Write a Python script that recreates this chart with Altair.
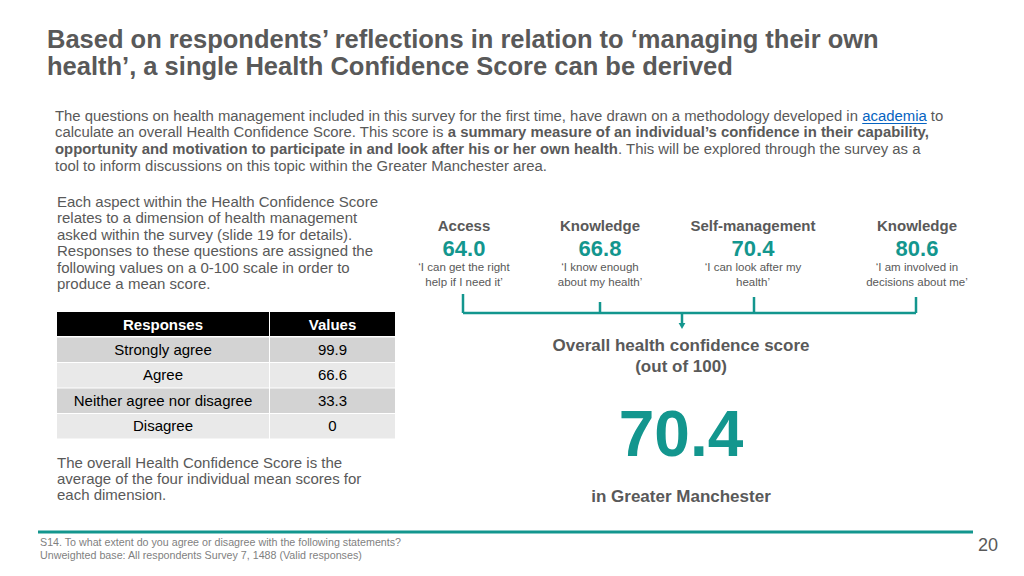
import altair as alt
import pandas as pd

# ---------------- data ----------------
title_lines = [
    "Based on respondents’ reflections in relation to ‘managing their own",
    "health’, a single Health Confidence Score can be derived",
]
# intro paragraph: each line is a list of (text, style) runs
intro_lines = [
    [("The questions on health management included in this survey for the first time, have drawn on a methodology developed in ", "normal"),
     ("academia", "link"), (" to", "normal")],
    [("calculate an overall Health Confidence Score. This score is ", "normal"),
     ("a summary measure of an individual’s confidence in their capability,", "bold")],
    [("opportunity and motivation to participate in and look after his or her own health", "bold"),
     (". This will be explored through the survey as a", "normal")],
    [("tool to inform discussions on this topic within the Greater Manchester area.", "normal")],
]

method_lines = [
    "Each aspect within the Health Confidence Score",
    "relates to a dimension of health management",
    "asked within the survey (slide 19 for details).",
    "Responses to these questions are assigned the",
    "following values on a 0-100 scale in order to",
    "produce a mean score.",
]
table_headers = ["Responses", "Values"]
responses = ["Strongly agree", "Agree", "Neither agree nor disagree", "Disagree"]
response_values = ["99.9", "66.6", "33.3", "0"]
average_lines = [
    "The overall Health Confidence Score is the",
    "average of the four individual mean scores for",
    "each dimension.",
]

dimensions = ["Access", "Knowledge", "Self-management", "Knowledge"]
dimension_scores = [64.0, 66.8, 70.4, 80.6]
dimension_quotes = [
    ["‘I can get the right", "help if I need it’"],
    ["‘I know enough", "about my health’"],
    ["‘I can look after my", "health’"],
    ["‘I am involved in", "decisions about me’"],
]
overall_label = ["Overall health confidence score", "(out of 100)"]
overall_score = 70.4
overall_area = "in Greater Manchester"

footer_lines = [
    "S14. To what extent do you agree or disagree with the following statements?",
    "Unweighted base: All respondents Survey 7, 1488 (Valid responses)",
]
page_number = "20"

# ---------------- styling / layout ----------------
TEAL = "#13968e"
GREY = "#595959"
LIGHTGREY = "#7f7f7f"
LINK = "#0563c1"
SANS = "Liberation Sans, Arial, sans-serif"

XS = alt.Scale(domain=[8, 1016], nice=False, zero=False)
YS = alt.Scale(domain=[8, 568], nice=False, zero=False, reverse=True)

# Arial / Liberation Sans advance widths (per 1000 em) used to chain text runs
_REG = dict(zip(" !'(),-.:;?", [278, 278, 191, 333, 333, 278, 333, 278, 278, 278, 556]))
_REG.update({c: 556 for c in "0123456789"})
_REG.update(dict(zip("ABCDEFGHIJKLMNOPQRSTUVWXYZ",
                     [667, 667, 722, 722, 667, 611, 778, 722, 278, 500, 667, 556, 833, 722, 778, 667, 778, 722, 667, 611, 722, 667, 944, 667, 667, 611])))
_REG.update(dict(zip("abcdefghijklmnopqrstuvwxyz",
                     [556, 556, 500, 556, 556, 278, 556, 556, 222, 222, 500, 222, 833, 556, 556, 556, 556, 333, 500, 278, 556, 500, 722, 500, 500, 500])))
_REG.update({"’": 222, "‘": 222})
_BOLD = dict(zip(" !'(),-.:;?", [278, 333, 238, 333, 333, 278, 333, 278, 333, 333, 611]))
_BOLD.update({c: 556 for c in "0123456789"})
_BOLD.update(dict(zip("ABCDEFGHIJKLMNOPQRSTUVWXYZ",
                      [722, 722, 722, 722, 667, 611, 778, 722, 278, 556, 722, 611, 833, 722, 778, 667, 778, 722, 667, 611, 722, 667, 944, 667, 667, 611])))
_BOLD.update(dict(zip("abcdefghijklmnopqrstuvwxyz",
                      [556, 611, 556, 611, 556, 333, 611, 611, 278, 278, 556, 278, 889, 611, 611, 611, 611, 389, 556, 333, 611, 556, 778, 556, 556, 500])))
_BOLD.update({"’": 278, "‘": 278})


def text_width(s, size, bold=False):
    table = _BOLD if bold else _REG
    return sum(table.get(ch, 556) for ch in s) * size / 1000.0


def text_layer(rows, **kw):
    df = pd.DataFrame(rows, columns=["x", "y", "t"])
    base = dict(baseline="middle", align="left", font=SANS, fontSize=14, color=GREY)
    base.update(kw)
    return alt.Chart(df).mark_text(**base).encode(
        x=alt.X("x:Q", scale=XS, axis=None),
        y=alt.Y("y:Q", scale=YS, axis=None),
        text="t:N",
    )


def rule_layer(rows, color=TEAL, width=2):
    df = pd.DataFrame(rows, columns=["x", "x2", "y", "y2"])
    return alt.Chart(df).mark_rule(color=color, strokeWidth=width).encode(
        x=alt.X("x:Q", scale=XS, axis=None), x2="x2:Q",
        y=alt.Y("y:Q", scale=YS, axis=None), y2="y2:Q",
    )


layers = []

# title
layers.append(text_layer([(47, 40 + 27 * i, t) for i, t in enumerate(title_lines)],
                         fontSize=25.5, fontWeight="bold", color=GREY))

# intro paragraph (runs chained with computed widths)
first_line_units = sum(text_width(t, 1, s == "bold") for t, s in intro_lines[0])
P_SIZE = round(888 / first_line_units, 2)
runs = {"normal": [], "bold": [], "link": []}
underline = []
for i, line in enumerate(intro_lines):
    x = 55.0
    y = 116.5 + 16.8 * i
    for t, style in line:
        bold = style == "bold"
        lead = len(t) - len(t.lstrip())
        x_draw = x + text_width(t[:lead], P_SIZE, bold)
        core = t.strip()
        runs[style].append((x_draw, y, core))
        if style == "link":
            underline.append((x_draw, x_draw + text_width(core, P_SIZE), y + 7, y + 7))
        x += text_width(t, P_SIZE, bold)
layers.append(text_layer(runs["normal"], fontSize=P_SIZE, color=GREY))
layers.append(text_layer(runs["bold"], fontSize=P_SIZE, color=GREY, fontWeight="bold"))
layers.append(text_layer(runs["link"], fontSize=P_SIZE, color=LINK))
layers.append(rule_layer(underline, color=LINK, width=1))

# method text
layers.append(text_layer([(57, 202 + 16.4 * i, t) for i, t in enumerate(method_lines)], fontSize=15))
layers.append(text_layer([(57, 463 + 16 * i, t) for i, t in enumerate(average_lines)], fontSize=15))

# table
row_top = [312, 337.5, 363, 388.5, 414]
row_bot = [336, 362, 387.5, 413, 438.5]
col_l = [57, 270]
col_r = [269, 395]
row_fill = ["#000000", "#d3d3d3", "#e9e9e9", "#d3d3d3", "#e9e9e9"]
cells = []
for r in range(5):
    for c in range(2):
        cells.append(dict(x=col_l[c], x2=col_r[c], y=row_top[r], y2=row_bot[r], c=row_fill[r]))
layers.append(alt.Chart(pd.DataFrame(cells)).mark_rect().encode(
    x=alt.X("x:Q", scale=XS, axis=None), x2="x2:Q",
    y=alt.Y("y:Q", scale=YS, axis=None), y2="y2:Q",
    color=alt.Color("c:N", scale=None),
))
col_c = [(a + b) / 2 for a, b in zip(col_l, col_r)]
layers.append(text_layer([(col_c[i], 325, h) for i, h in enumerate(table_headers)],
                         align="center", color="#ffffff", fontWeight="bold", fontSize=15))
rows_txt = []
for i, (resp, val) in enumerate(zip(responses, response_values)):
    yc = (row_top[i + 1] + row_bot[i + 1]) / 2
    rows_txt.append((col_c[0], yc, resp))
    rows_txt.append((col_c[1], yc, val))
layers.append(text_layer(rows_txt, align="center", color="#000000", fontSize=15))

# dimension columns
dim_x = [464, 600, 753, 917]
layers.append(text_layer([(dim_x[i], 226, d) for i, d in enumerate(dimensions)],
                         align="center", fontWeight="bold", fontSize=15))
layers.append(text_layer([(dim_x[i], 249, f"{s:.1f}") for i, s in enumerate(dimension_scores)],
                         align="center", fontWeight="bold", fontSize=22, color=TEAL))
quote_rows = []
for i, q in enumerate(dimension_quotes):
    for j, line in enumerate(q):
        quote_rows.append((dim_x[i], 268 + 15 * j, line))
layers.append(text_layer(quote_rows, align="center", fontSize=11.5))

# bracket
tops = [294, 302, 297, 297]
bracket = [(463, 916, 313, 313)]
bracket += [(x, x, t, 313) for x, t in zip([463, 600, 754, 916], tops)]
bracket += [(682, 682, 313, 325)]
layers.append(rule_layer(bracket, width=2.5))
layers.append(alt.Chart(pd.DataFrame({"x": [682], "y": [326]})).mark_point(
    shape="triangle-down", filled=True, size=45, color=TEAL, opacity=1).encode(
    x=alt.X("x:Q", scale=XS, axis=None), y=alt.Y("y:Q", scale=YS, axis=None)))

# overall score
layers.append(text_layer([(681, 346 + 21 * i, t) for i, t in enumerate(overall_label)],
                         align="center", fontWeight="bold", fontSize=17))
layers.append(text_layer([(681, 437, f"{overall_score:.1f}")],
                         align="center", fontWeight="bold", fontSize=64, color=TEAL))
layers.append(text_layer([(681, 497, overall_area)], align="center", fontWeight="bold", fontSize=17))

# footer
layers.append(rule_layer([(38, 973, 532, 532)], width=3))
layers.append(text_layer([(40, 543 + 13 * i, t) for i, t in enumerate(footer_lines)],
                         fontSize=10.7, color=LIGHTGREY))
layers.append(text_layer([(988, 546, page_number)], align="center", fontSize=18, color=GREY))

chart = alt.layer(*layers).properties(
    width=1008, height=560, autosize=alt.AutoSizeParams(type="none"), padding=0,
    background="#ffffff",
).configure_view(stroke=None)

chart.save("out.html", embed_options={"renderer": "svg", "actions": False})
